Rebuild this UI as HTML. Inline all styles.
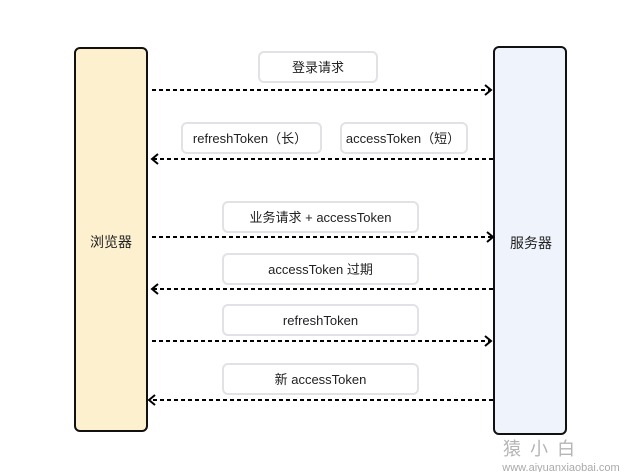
<!DOCTYPE html>
<html><head><meta charset="utf-8"><style>
html,body{margin:0;padding:0;background:#fff;width:627px;height:472px;overflow:hidden}
svg text{font-family:"Liberation Sans","Noto Sans CJK SC",sans-serif;}
</style></head><body>
<svg width="627" height="472" viewBox="0 0 627 472" xmlns="http://www.w3.org/2000/svg">
<defs>
<marker id="ar" markerWidth="12" markerHeight="12" refX="9" refY="6" orient="auto" markerUnits="userSpaceOnUse">
<path d="M3,1 L9,6 L3,11" fill="none" stroke="#000" stroke-width="2"/>
</marker>
</defs>
<!-- actors -->
<rect x="75" y="48" width="72" height="383" rx="5" fill="#fdf0cf" stroke="#111" stroke-width="2"/>
<rect x="494" y="47" width="72" height="387" rx="5" fill="#eef3fc" stroke="#111" stroke-width="2"/>
<text x="111" y="247" font-size="14" text-anchor="middle" fill="#222">浏览器</text>
<text x="531" y="248" font-size="14" text-anchor="middle" fill="#222">服务器</text>

<!-- label boxes -->
<g fill="#fff" stroke="#e2e2e6" stroke-width="2">
<rect x="259" y="52" width="118" height="30" rx="5"/>
<rect x="182" y="123" width="139" height="30" rx="5"/>
<rect x="341" y="123" width="126" height="30" rx="5"/>
<rect x="223" y="202" width="195" height="30" rx="5"/>
<rect x="223" y="254" width="195" height="30" rx="5"/>
<rect x="223" y="305" width="195" height="30" rx="5"/>
<rect x="223" y="364" width="195" height="30" rx="5"/>
</g>
<g font-size="13" fill="#222" text-anchor="middle">
<text x="318" y="72">登录请求</text>
<text x="250" y="143">refreshToken（长）</text>
<text x="403" y="143">accessToken（短）</text>
<text x="320.5" y="222">业务请求 + accessToken</text>
<text x="320.5" y="274">accessToken 过期</text>
<text x="320.5" y="325">refreshToken</text>
<text x="320.5" y="384">新 accessToken</text>
</g>

<!-- arrows -->
<g stroke="#000" stroke-width="2" stroke-dasharray="4,3" fill="none">
<line x1="152" y1="90" x2="491" y2="90" marker-end="url(#ar)"/>
<line x1="493" y1="159" x2="152" y2="159" marker-end="url(#ar)"/>
<line x1="152" y1="237" x2="493" y2="237" marker-end="url(#ar)"/>
<line x1="493" y1="289" x2="152" y2="289" marker-end="url(#ar)"/>
<line x1="152" y1="341" x2="491" y2="341" marker-end="url(#ar)"/>
<line x1="493" y1="400" x2="149" y2="400" marker-end="url(#ar)"/>
</g>

<!-- watermark -->
<text x="503" y="455" font-size="18" fill="#b5b5b5" letter-spacing="9" font-family="'Noto Sans CJK SC',sans-serif">猿小白</text>
<text x="561" y="471" font-size="11" fill="#aaa" text-anchor="middle">www.aiyuanxiaobai.com</text>
</svg>
</body></html>
